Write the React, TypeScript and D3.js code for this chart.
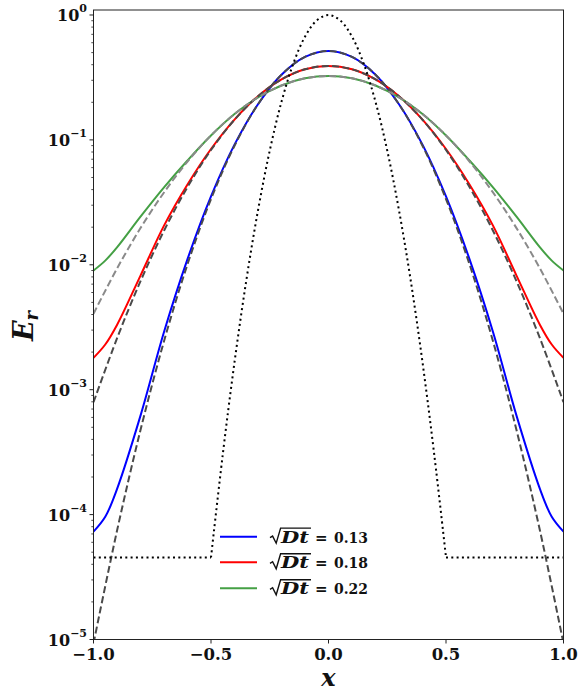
import React from "react";
import * as d3 from "d3";

// ---------- data ----------
const xSolid = [-1, -0.95, -0.9, -0.8, -0.7, -0.6, -0.5, -0.4, -0.3, -0.2, -0.1, 0, 0.1, 0.2, 0.3, 0.4, 0.5, 0.6, 0.7, 0.8, 0.9, 0.95, 1];
const blueSolid = [7.3e-5, 9.6e-5, 1.6e-4, 6.2e-4, 2.9e-3, 0.0111, 0.0353, 0.0916, 0.193, 0.3327, 0.4618, 0.515, 0.4618, 0.3327, 0.193, 0.0916, 0.0353, 0.0111, 2.9e-3, 6.2e-4, 1.6e-4, 9.6e-5, 7.3e-5];
const redSolid = [1.8e-3, 2.3e-3, 3.3e-3, 8.2e-3, 0.0206, 0.044, 0.0846, 0.1455, 0.2238, 0.3051, 0.3675, 0.391, 0.3675, 0.3051, 0.2238, 0.1455, 0.0846, 0.044, 0.0206, 8.2e-3, 3.3e-3, 2.3e-3, 1.8e-3];
const greenSolid = [9.0e-3, 0.0108, 0.0138, 0.0243, 0.0417, 0.0684, 0.1084, 0.161, 0.2191, 0.2727, 0.3111, 0.325, 0.3111, 0.2727, 0.2191, 0.161, 0.1084, 0.0684, 0.0417, 0.0243, 0.0138, 0.0108, 9.0e-3];

const xDashed = [-1, -0.9, -0.8, -0.7, -0.6, -0.5, -0.4, -0.3, -0.2, -0.1, 0, 0.1, 0.2, 0.3, 0.4, 0.5, 0.6, 0.7, 0.8, 0.9, 1];
const blueDashed = [9.3e-6, 7.42e-5, 4.75e-4, 2.444e-3, 0.0101, 0.0336, 0.0898, 0.1928, 0.3327, 0.4618, 0.515, 0.4618, 0.3327, 0.1928, 0.0898, 0.0336, 0.0101, 2.444e-3, 4.75e-4, 7.42e-5, 9.3e-6];
const redDashed = [7.93e-4, 2.576e-3, 7.39e-3, 0.01874, 0.04195, 0.083, 0.145, 0.2238, 0.3051, 0.3675, 0.391, 0.3675, 0.3051, 0.2238, 0.145, 0.083, 0.04195, 0.01874, 7.39e-3, 2.576e-3, 7.93e-4];
const greenDashed = [4.06e-3, 9.33e-3, 0.01967, 0.03795, 0.06709, 0.1086, 0.1612, 0.2191, 0.2727, 0.3111, 0.325, 0.3111, 0.2727, 0.2191, 0.1612, 0.1086, 0.06709, 0.03795, 0.01967, 9.33e-3, 4.06e-3];

const xDotted = [-1, -0.5, -0.45, -0.4, -0.35, -0.3, -0.25, -0.2, -0.15, -0.1, -0.05, 0, 0.05, 0.1, 0.15, 0.2, 0.25, 0.3, 0.35, 0.4, 0.45, 0.5, 1];
const yDotted = [4.54e-5, 4.54e-5, 3.02e-4, 1.66e-3, 7.45e-3, 0.0273, 0.0821, 0.2019, 0.4066, 0.6703, 0.9048, 1, 0.9048, 0.6703, 0.4066, 0.2019, 0.0821, 0.0273, 7.45e-3, 1.66e-3, 3.02e-4, 4.54e-5, 4.54e-5];

const xTicks = [-1, -0.5, 0, 0.5, 1];
const xTickLabels = ["\u22121.0", "\u22120.5", "0.0", "0.5", "1.0"];
const yExponents = [-5, -4, -3, -2, -1, 0];
const yExpLabels = ["\u22125", "\u22124", "\u22123", "\u22122", "\u22121", "0"];

const legendLabels = ["0.13", "0.18", "0.22"];
const BLUE = "#0000ff";
const RED = "#ff0000";
const GREEN = "#45a045";
const legendColors = [BLUE, RED, GREEN];

// ---------- layout ----------
const W = 580;
const H = 691;
const L = 93.5, R = 563.5, T = 10, B = 639.5;
const FONT = "DejaVu Serif";

export default function App() {
  const x = d3.scaleLinear().domain([-1, 1]).range([L, R]);
  const y = d3.scaleLog().domain([1e-5, Math.pow(10, 0.04)]).range([B, T]);

  const smooth = d3
    .line<[number, number]>()
    .x((d) => x(d[0]))
    .y((d) => y(d[1]))
    .curve(d3.curveCatmullRom.alpha(0.5));
  const straight = d3
    .line<[number, number]>()
    .x((d) => x(d[0]))
    .y((d) => y(d[1]));

  const zip = (xs: number[], ys: number[]) => xs.map((v, i) => [v, ys[i]] as [number, number]);

  const dotted = zip(xDotted, yDotted);
  const dotMid = dotted.slice(1, dotted.length - 1);
  const dotLeft = dotted.slice(0, 2);
  const dotRight = dotted.slice(dotted.length - 2);

  const minorTicks: number[] = [];
  for (let e = -5; e < 1; e++) {
    for (let m = 2; m <= 9; m++) {
      const v = m * Math.pow(10, e);
      if (v <= Math.pow(10, 0.04)) minorTicks.push(v);
    }
  }

  const legendY = [536.7, 562.3, 588.3];

  return (
    <svg
      width={W}
      height={H}
      style={{ position: "absolute", left: 0, top: 0, background: "#fff" }}
    >
      <defs>
        <clipPath id="plotClip">
          <rect x={L} y={T} width={R - L} height={B - T} />
        </clipPath>
      </defs>
      <rect x={0} y={0} width={W} height={H} fill="#fff" />

      <g clipPath="url(#plotClip)" fill="none">
        <path d={smooth(zip(xSolid, blueSolid)) || ""} stroke={BLUE} strokeWidth={2} />
        <path d={smooth(zip(xSolid, redSolid)) || ""} stroke={RED} strokeWidth={2} />
        <path d={smooth(zip(xSolid, greenSolid)) || ""} stroke={GREEN} strokeWidth={2} />
        <path d={smooth(zip(xDashed, blueDashed)) || ""} stroke="#4a4a4a" strokeWidth={2} strokeDasharray="7 3.3" />
        <path d={smooth(zip(xDashed, redDashed)) || ""} stroke="#4a4a4a" strokeWidth={2} strokeDasharray="7 3.3" />
        <path d={smooth(zip(xDashed, greenDashed)) || ""} stroke="#8a8a8a" strokeWidth={2} strokeDasharray="7 3.3" />
        <path d={straight(dotLeft) || ""} stroke="#000" strokeWidth={2} strokeDasharray="2 3.3" />
        <path d={smooth(dotMid) || ""} stroke="#000" strokeWidth={2} strokeDasharray="2 3.3" />
        <path d={straight(dotRight) || ""} stroke="#000" strokeWidth={2} strokeDasharray="2 3.3" />
      </g>

      {/* frame */}
      <rect x={L} y={T} width={R - L} height={B - T} fill="none" stroke="#222" strokeWidth={1} />

      {/* y ticks */}
      {yExponents.map((e, i) => {
        const py = y(Math.pow(10, e));
        return (
          <g key={"y" + e}>
            <line x1={L - 4} x2={L} y1={py} y2={py} stroke="#222" strokeWidth={1} />
            <text
              x={87}
              y={py + 6}
              textAnchor="end"
              fontFamily={FONT}
              fontWeight="bold"
              fontSize={16}
              fill="#111"
            >
              10
              <tspan dy={-8.5} fontSize={11}>
                {yExpLabels[i]}
              </tspan>
            </text>
          </g>
        );
      })}
      {minorTicks.map((v, i) => (
        <line key={"m" + i} x1={L - 2.2} x2={L} y1={y(v)} y2={y(v)} stroke="#222" strokeWidth={0.8} />
      ))}

      {/* x ticks */}
      {xTicks.map((v, i) => (
        <g key={"x" + i}>
          <line x1={x(v)} x2={x(v)} y1={B} y2={B + 4} stroke="#222" strokeWidth={1} />
          <text
            x={x(v)}
            y={660}
            textAnchor="middle"
            fontFamily={FONT}
            fontWeight="bold"
            fontSize={16.5}
            fill="#111"
          >
            {xTickLabels[i]}
          </text>
        </g>
      ))}

      {/* axis labels */}
      <text
        x={(L + R) / 2}
        y={686}
        textAnchor="middle"
        fontFamily={FONT}
        fontWeight="bold"
        fontStyle="italic"
        fontSize={24}
        fill="#111"
      >
        x
      </text>
      <text
        transform="translate(33,326) rotate(-90)"
        textAnchor="middle"
        fontFamily={FONT}
        fontWeight="bold"
        fontStyle="italic"
        fontSize={27}
        fill="#111"
      >
        E
        <tspan dy={5} fontSize={18}>
          r
        </tspan>
      </text>

      {/* legend */}
      {legendLabels.map((lab, i) => {
        const ly = legendY[i];
        return (
          <g key={"leg" + i}>
            <line x1={220} x2={257} y1={ly} y2={ly} stroke={legendColors[i]} strokeWidth={2} />
            <path
              d={`M270 ${ly + 1} L272.6 ${ly - 0.6} L276.2 ${ly + 6.5} L280.6 ${ly - 8.6} L311 ${ly - 8.6}`}
              fill="none"
              stroke="#111"
              strokeWidth={1.4}
            />
            <text
              x={281}
              y={ly + 6}
              fontFamily={FONT}
              fontWeight="bold"
              fontStyle="italic"
              fontSize={16}
              fill="#111"
              textLength={28}
              lengthAdjust="spacingAndGlyphs"
            >
              Dt
            </text>
            <text x={315} y={ly + 6} fontFamily={FONT} fontWeight="bold" fontSize={15} fill="#111">
              =
            </text>
            <text
              x={334}
              y={ly + 6}
              fontFamily={FONT}
              fontWeight="bold"
              fontSize={15.5}
              fill="#111"
              textLength={34}
              lengthAdjust="spacingAndGlyphs"
            >
              {lab}
            </text>
          </g>
        );
      })}
    </svg>
  );
}
